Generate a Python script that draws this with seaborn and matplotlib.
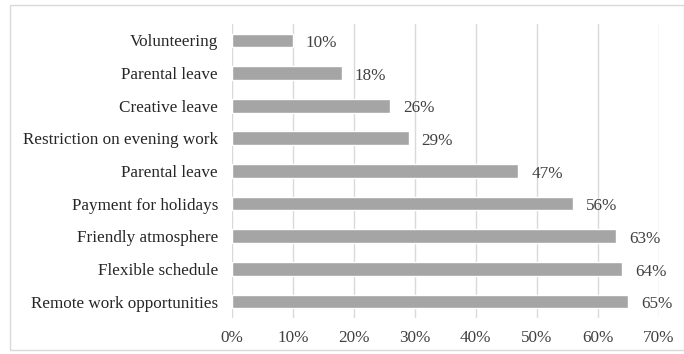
import matplotlib
matplotlib.use("Agg")
import matplotlib.pyplot as plt
import matplotlib.patches as mpatches
import seaborn as sns
import pandas as pd

categories = [
    "Volunteering",
    "Parental leave",
    "Creative leave",
    "Restriction on evening work",
    "Parental leave",
    "Payment for holidays",
    "Friendly atmosphere",
    "Flexible schedule",
    "Remote work opportunities",
]
values = [10, 18, 26, 29, 47, 56, 63, 64, 65]
tick_values = [0, 10, 20, 30, 40, 50, 60, 70]
tick_labels = [f"{v}%" for v in tick_values]

# duplicated names need distinct keys for the categorical axis
df = pd.DataFrame({"key": [f"{i}" for i in range(len(categories))],
                   "value": values})

sns.set_style("white")
plt.rcParams["font.family"] = ["Liberation Serif", "DejaVu Serif"]

fig = plt.figure(figsize=(6.84, 3.54), dpi=100)
ax = fig.add_axes([0.339, 0.102, 0.624, 0.83])

sns.barplot(data=df, y="key", x="value", orient="h", color="#a5a5a5",
            width=0.42, saturation=1, ax=ax, zorder=3)

fs = 12.3
ax.set_xlim(0, 70)
ax.set_xticks(tick_values)
ax.set_xticklabels(tick_labels, fontsize=fs, color="#404040")
ax.set_yticks(range(len(categories)))
ax.set_yticklabels(categories, fontsize=fs, color="#262626")
ax.set_xlabel("")
ax.set_ylabel("")
ax.grid(axis="x", color="#d9d9d9", linewidth=1, zorder=0)
ax.grid(axis="y", visible=False)
for s in ["top", "right", "left", "bottom"]:
    ax.spines[s].set_visible(False)
ax.tick_params(axis="y", length=0, pad=10)
ax.tick_params(axis="x", length=0, pad=9)

for i, v in enumerate(values):
    ax.text(v + 2.1, i + 0.08, f"{v}%", va="center", ha="left",
            fontsize=fs, color="#404040")

fig.patches.append(mpatches.Rectangle((0.015, 0.012), 0.985, 0.975,
                                      transform=fig.transFigure, fill=False,
                                      edgecolor="#d9d9d9", linewidth=1))

fig.savefig("out.png", dpi=100)
